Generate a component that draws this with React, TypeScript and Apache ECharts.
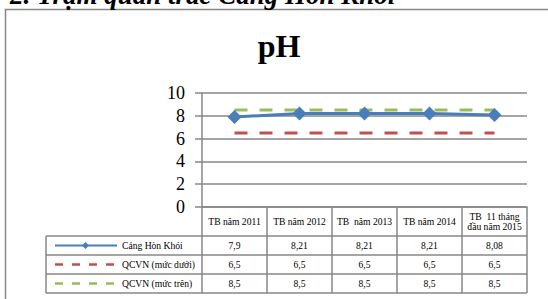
import React, { useEffect, useRef } from "react";
import * as echarts from "echarts";

const categories = ["TB năm 2011", "TB năm 2012", "TB  năm 2013", "TB năm 2014", "TB  11 tháng\nđầu năm 2015"];
const seriesNames = ["Cảng Hòn Khói", "QCVN (mức dưới)", "QCVN (mức trên)"];
const honKhoi = [7.9, 8.21, 8.21, 8.21, 8.08];
const qcvnLow = [6.5, 6.5, 6.5, 6.5, 6.5];
const qcvnHigh = [8.5, 8.5, 8.5, 8.5, 8.5];
const yTicks = [0, 2, 4, 6, 8, 10];
const chartTitle = "pH";
const headline = "2. Trạm quan trắc Cảng Hòn Khói";

const BLUE = "#4A7EBB";
const RED = "#C0504D";
const GREEN = "#9BBB59";
const GRAY = "#878787";
const SERIF = "'Liberation Serif', 'Times New Roman', serif";

const W = 548;
const H = 299;
const G_LEFT = 202;
const G_RIGHT = 527;
const G_TOP = 93;
const G_BOTTOM = 207;
const ROW_H = 19;
const HEAD_BOTTOM = 236;
const TABLE_LEFT = 46;

const fmt = (v: number) => String(v).replace(".", ",");

export default function App() {
  const ref = useRef<HTMLDivElement>(null);
  useEffect(() => {
    document.body.style.margin = "0";
    const chart = echarts.init(ref.current!, null, { renderer: "svg" });
    const rows = [honKhoi, qcvnLow, qcvnHigh];
    const colors = [BLUE, RED, GREEN];
    const rowCenter = (i: number) => HEAD_BOTTOM + ROW_H * i + ROW_H / 2;

    const valueAxes = rows.map((r, i) => ({
      type: "category",
      gridIndex: 0,
      position: "bottom",
      offset: rowCenter(i) - G_BOTTOM,
      data: r.map(fmt),
      axisLine: { show: false },
      axisTick: { show: false },
      axisLabel: {
        interval: 0,
        margin: 0,
        verticalAlign: "middle",
        fontSize: 9.6,
        fontFamily: SERIF,
        color: "#000",
      },
    }));

    const graphics: any[] = [
      {
        type: "rect",
        shape: { x: 5.5, y: 9.5, width: 700, height: 400 },
        style: { fill: "none", stroke: GRAY, lineWidth: 1.5 },
        silent: true,
      },
      {
        type: "text",
        x: 10,
        y: -5,
        style: {
          text: headline,
          font: `italic bold 27px ${SERIF}`,
          fill: "#000",
          verticalAlign: "middle",
        },
      },
      {
        type: "text",
        x: 279,
        y: 46,
        style: {
          text: chartTitle,
          font: `bold 32px ${SERIF}`,
          fill: "#000",
          align: "center",
          verticalAlign: "middle",
        },
      },
      {
        type: "line",
        shape: { x1: TABLE_LEFT, y1: HEAD_BOTTOM, x2: TABLE_LEFT, y2: HEAD_BOTTOM + ROW_H * 3 },
        style: { stroke: GRAY, lineWidth: 1.5 },
      },
    ];
    for (let i = 0; i <= 3; i++) {
      const y = HEAD_BOTTOM + ROW_H * i;
      graphics.push({
        type: "line",
        shape: { x1: TABLE_LEFT, y1: y, x2: G_RIGHT, y2: y },
        style: { stroke: GRAY, lineWidth: 1.5 },
      });
    }
    seriesNames.forEach((name, i) => {
      const cy = rowCenter(i);
      graphics.push({
        type: "line",
        shape: { x1: 55, y1: cy, x2: 117, y2: cy },
        style: { stroke: colors[i], lineWidth: i === 0 ? 2 : 2.5, lineDash: i === 0 ? null : [8, 9] },
      });
      if (i === 0) {
        graphics.push({
          type: "polygon",
          shape: { points: [[85.5, cy - 3.5], [89, cy], [85.5, cy + 3.5], [82, cy]] },
          style: { fill: BLUE },
        });
      }
      graphics.push({
        type: "text",
        x: 122,
        y: cy,
        style: {
          text: name,
          font: `9.6px ${SERIF}`,
          fill: "#000",
          verticalAlign: "middle",
        },
      });
    });

    chart.setOption({
      animation: false,
      grid: { left: G_LEFT, right: W - G_RIGHT, top: G_TOP, bottom: H - G_BOTTOM, containLabel: false },
      xAxis: [
        {
          type: "category",
          data: categories,
          position: "bottom",
          boundaryGap: true,
          axisLine: { show: true, lineStyle: { color: GRAY, width: 1.5 } },
          axisTick: {
            show: true,
            alignWithLabel: false,
            interval: 0,
            length: HEAD_BOTTOM + ROW_H * 3 - G_BOTTOM,
            lineStyle: { color: GRAY, width: 1.5 },
          },
          axisLabel: {
            interval: 0,
            margin: (HEAD_BOTTOM - G_BOTTOM) / 2,
            verticalAlign: "middle",
            fontSize: 9.6,
            lineHeight: 10,
            fontFamily: SERIF,
            color: "#000",
          },
        },
        ...valueAxes,
      ],
      yAxis: {
        type: "value",
        min: yTicks[0],
        max: yTicks[yTicks.length - 1],
        interval: 2,
        axisLine: { show: true, lineStyle: { color: GRAY, width: 1.5 } },
        axisTick: { show: true, length: 7, lineStyle: { color: GRAY, width: 1.5 } },
        splitLine: { show: true, lineStyle: { color: GRAY, width: 1.5 } },
        axisLabel: { margin: 17, fontSize: 18, fontFamily: SERIF, color: "#000" },
      },
      series: [
        {
          name: seriesNames[1],
          type: "line",
          data: qcvnLow,
          symbol: "none",
          lineStyle: { color: RED, width: 3, type: [13, 12] },
          itemStyle: { color: RED },
          z: 2,
        },
        {
          name: seriesNames[2],
          type: "line",
          data: qcvnHigh,
          symbol: "none",
          lineStyle: { color: GREEN, width: 3, type: [13, 12] },
          itemStyle: { color: GREEN },
          z: 2,
        },
        {
          name: seriesNames[0],
          type: "line",
          data: honKhoi,
          symbol: "diamond",
          symbolSize: 14,
          lineStyle: { color: BLUE, width: 3 },
          itemStyle: { color: BLUE },
          z: 3,
        },
      ],
      graphic: graphics,
    });
    return () => chart.dispose();
  }, []);
  return <div ref={ref} style={{ width: W, height: H }} />;
}
